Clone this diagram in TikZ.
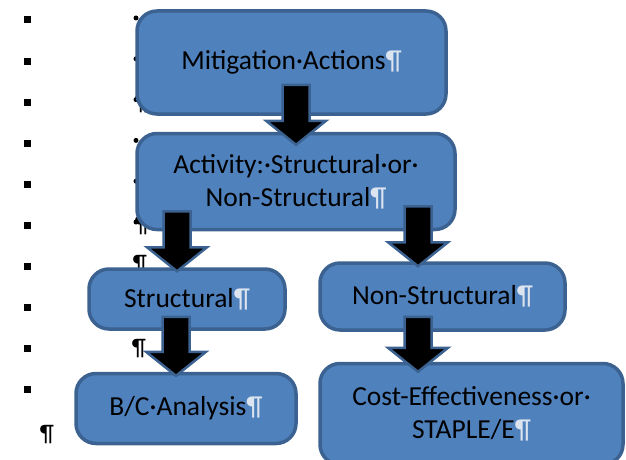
\documentclass[tikz,border=0pt]{standalone}
\usepackage{fontspec}
\setmainfont{Carlito}
\usetikzlibrary{positioning,calc}

\definecolor{boxfill}{HTML}{4F81BD}
\definecolor{boxline}{HTML}{3B6290}
\definecolor{pilc}{HTML}{DCE4EF}

\newcommand{\pil}{\textcolor{pilc}{¶}}
\newcommand{\blockarrow}[2]{%
  \draw[barrow] let \p1=#1, \p2=#2 in
    (\x1-13.5pt,\y1) -- (\x1+13.5pt,\y1) -- (\x1+13.5pt,\y2+24pt) -- (\x1+30pt,\y2+24pt)
    -- (\x1,\y2) -- (\x1-30pt,\y2+24pt) -- (\x1-13.5pt,\y2+24pt) -- cycle;}

\begin{document}
\begin{tikzpicture}[
    x=1pt,y=1pt,
    box/.style={rectangle,draw=boxline,fill=boxfill,line width=3.5pt,rounded corners=20pt,align=center,inner sep=0pt,font=\fontsize{27.5}{33}\selectfont},
    barrow/.style={draw=boxline,fill=black,line width=2.5pt,line join=miter},
    sq/.style={fill=black,minimum size=7pt,inner sep=0pt},
    dotmark/.style={circle,fill=black,minimum size=5pt,inner sep=0pt},
    pmark/.style={inner sep=0pt,font=\fontsize{24}{24}\selectfont}
]
    \clip (0,0) rectangle (626,459);

    % list marks of the page, behind the boxes
    \foreach \i in {0,...,9}
        \node[sq] (b\i) at (27,{439-41.1*\i}) {};
    \foreach \i in {0,...,5}
        \node[dotmark] (d\i) at (136,{441-40.8*\i}) {};
    \node[pmark] (p1) at (142,355) {¶};
    \node[pmark] (p2) at (142,233) {¶};
    \node[pmark] (p3) at (140,194) {¶};
    \node[pmark] (p4) at (139,110) {¶};
    \node[pmark] (p5) at (47,24) {¶};

    \node[box,minimum width=309pt,minimum height=103pt] (mit) at (291.5,396.5) {Mitigation·Actions\pil};
    \node[box,minimum width=318pt,minimum height=96pt,below=16pt of mit,xshift=4.5pt] (act) {Activity:·Structural·or·\\Non-Structural\pil};
    \node[box,minimum width=196pt,minimum height=60pt,below=36pt of act,xshift=-109pt] (str) {Structural\pil};
    \node[box,minimum width=245pt,minimum height=67pt,below=30pt of act,xshift=146.5pt] (non) {Non-Structural\pil};
    \node[box,minimum width=220pt,minimum height=70pt,below=41pt of str,xshift=-1pt] (bc) {B/C·Analysis\pil};
    \node[box,minimum width=303pt,minimum height=101pt,below=30pt of non,xshift=29pt] (cost) {Cost-Effectiveness·or·\\STAPLE/E\pil};

    \blockarrow{($(mit.south)+(4.5,31)$)}{($(act.north)+(0,-13)$)}
    \blockarrow{($(act.south)+(-119,20)$)}{($(str.north)+(0,-4)$)}
    \blockarrow{($(str.south)+(-11,14)$)}{($(bc.north)+(0,-4)$)}
    \blockarrow{($(act.south)+(122,25)$)}{($(non.north)+(0,-5)$)}
    \blockarrow{($(non.south)+(-24.5,15)$)}{($(cost.north)+(0,-10)$)}
\end{tikzpicture}
\end{document}
